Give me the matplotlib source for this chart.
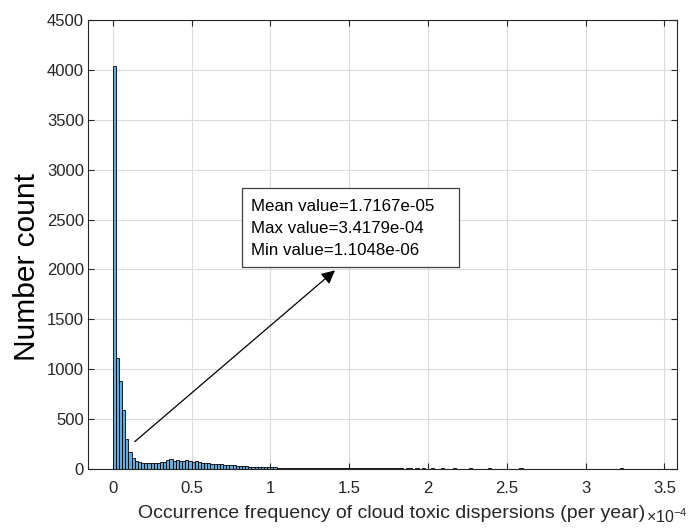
import numpy as np
import matplotlib
matplotlib.use('Agg')
import matplotlib.pyplot as plt
from matplotlib.patches import Rectangle

plt.rcParams['font.family'] = ['Liberation Sans', 'DejaVu Sans']
plt.rcParams['mathtext.fontset'] = 'custom'
plt.rcParams['mathtext.rm'] = 'Liberation Sans'

# histogram: bin width 2e-6, counts
bin_width = 2e-6
counts = [4040, 1105, 877, 590, 300, 170, 107,
          75, 65, 60, 58, 57, 55, 58, 60, 62, 68,
          85, 100, 78, 88,
          80, 76, 82, 74, 70, 72, 68,
          60, 55, 52, 50, 48, 46, 45,
          40, 36, 34, 33, 30, 28,
          25, 22, 20, 20, 18, 15, 16,
          14, 12, 12, 11, 10, 9, 9, 8, 8, 7,
          7, 6, 6, 5, 6, 5, 4, 4, 5, 3, 4, 3, 3,
          3, 2, 3, 2, 2, 3, 2, 2, 1, 2, 2, 1, 2, 1, 1, 2, 1, 1, 1, 1,
          1, 0, 1, 1, 0, 1, 0, 1, 0, 0, 1, 0, 0, 1, 0, 0, 0, 1, 0, 0,
          0, 0, 1, 0, 0, 0, 0, 0, 1, 0, 0, 0, 0, 0, 0, 0, 0, 0, 1, 0,
          0, 0, 0, 0, 0, 0, 0, 0, 0, 0, 0, 0, 0, 0, 0, 0, 0, 0, 0, 0,
          0, 0, 0, 0, 0, 0, 0, 0, 0, 0, 1]
stats_text = "Mean value=1.7167e-05\nMax value=3.4179e-04\nMin value=1.1048e-06"

edges = np.arange(len(counts)) * bin_width

fig = plt.figure(figsize=(6.92, 5.31), dpi=100)
ax = fig.add_axes([0.1272, 0.1177, 0.8514, 0.8437])

face = (0.4, 0.668, 0.845)
ax.bar(edges / 1e-4, counts, width=bin_width / 1e-4, align='edge',
       color=face, edgecolor='black', linewidth=0.6, zorder=2)

ax.set_xlim(-0.1566, 3.581)
ax.set_ylim(0, 4500)
ax.set_xticks(np.arange(0, 3.51, 0.5))
ax.set_xticklabels(['0', '0.5', '1', '1.5', '2', '2.5', '3', '3.5'])
ax.set_yticks(np.arange(0, 4501, 500))
ax.grid(True, color='#dcdcdc', linewidth=0.8, zorder=0)
ax.set_axisbelow(True)
ax.tick_params(direction='in', top=True, right=True, labelsize=12,
               colors='#262626', length=4, width=0.8)
ax.tick_params(axis='y', pad=3)
ax.tick_params(axis='x', pad=9)
for s in ax.spines.values():
    s.set_color('#262626')
    s.set_linewidth(0.8)

ax.set_ylabel('Number count', fontsize=21.5, color='black')
ax.yaxis.set_label_coords(-0.080, 0.45)
ax.set_xlabel('Occurrence frequency of cloud toxic dispersions (per year)',
              fontsize=14, color='#262626')
ax.xaxis.set_label_coords(0.515, -0.082)
fig.text(0.934, 0.016, r'$\times10^{-4}$', fontsize=11.5, color='#262626')

ax.annotate('', xy=(1.41, 1990), xytext=(0.14, 270),
            arrowprops=dict(arrowstyle='-|>', color='black', lw=0.9,
                            mutation_scale=20, shrinkA=0, shrinkB=0))
ax.add_patch(Rectangle((0.818, 2024), 2.194 - 0.818, 2817 - 2024,
                       facecolor='white', edgecolor='#404040',
                       linewidth=0.9, zorder=5))
ax.text(0.875, 2410, stats_text, fontsize=12.2, linespacing=1.55,
        va='center', ha='left', zorder=6)

fig.savefig('out.png', dpi=100)
